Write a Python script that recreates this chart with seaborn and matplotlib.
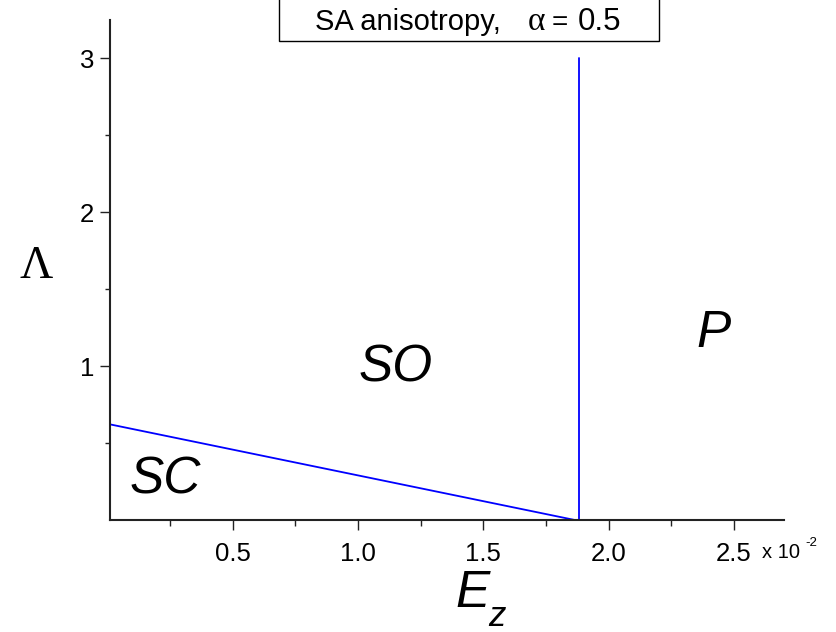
import matplotlib
matplotlib.use("Agg")
import matplotlib.pyplot as plt
import matplotlib.patches as mpatches
from matplotlib.ticker import FixedLocator
import numpy as np
import pandas as pd
import seaborn as sns

# Phase boundaries (E_z in units of 1e-2, Lambda)
sc_so_ez = [0.0, 1.865]
sc_so_lam = [0.625, 0.0]
so_p_ez = [1.883, 1.883]
so_p_lam = [0.0, 3.0]

# Phase region labels and their positions
phase_names = ["SC", "SO", "P"]
phase_ez = [0.23, 1.15, 2.42]
phase_lam = [0.26, 0.99, 1.21]

x_major = [0.5, 1.0, 1.5, 2.0, 2.5]
x_labels = ["0.5", "1.0", "1.5", "2.0", "2.5"]
x_minor = [0.25, 0.75, 1.25, 1.75, 2.25]
y_major = [1, 2, 3]
y_labels = ["1", "2", "3"]
y_minor = [0.5, 1.5, 2.5]

sns.set_theme(style="ticks")
plt.rcParams["font.family"] = ["Liberation Sans", "DejaVu Sans"]
plt.rcParams["text.color"] = "black"
plt.rcParams["xtick.color"] = "black"
plt.rcParams["ytick.color"] = "black"

W, H = 837, 632
SANS = ["Liberation Sans", "DejaVu Sans"]
SERIF = ["Liberation Serif", "DejaVu Serif"]

fig = plt.figure(figsize=(W / 100, H / 100), dpi=100)
ax = fig.add_axes([110 / W, 112 / H, 674 / W, 500 / H])

df1 = pd.DataFrame({"Ez": sc_so_ez, "Lam": sc_so_lam})
df2 = pd.DataFrame({"Ez": so_p_ez, "Lam": so_p_lam})
sns.lineplot(data=df1, x="Ez", y="Lam", ax=ax, color="#0000ff", lw=1.3,
             estimator=None, sort=False)
sns.lineplot(data=df2, x="Ez", y="Lam", ax=ax, color="#0000ff", lw=1.3,
             estimator=None, sort=False)

ax.set_xlim(0.01, 2.7)
ax.set_ylim(0, 3.25)
ax.set_xlabel("")
ax.set_ylabel("")

for s in ["top", "right"]:
    ax.spines[s].set_visible(False)
for s in ["left", "bottom"]:
    ax.spines[s].set_linewidth(1.5)
    ax.spines[s].set_color("#222222")

ax.xaxis.set_major_locator(FixedLocator(x_major))
ax.xaxis.set_minor_locator(FixedLocator(x_minor))
ax.set_xticklabels(x_labels)
ax.yaxis.set_major_locator(FixedLocator(y_major))
ax.yaxis.set_minor_locator(FixedLocator(y_minor))
ax.set_yticklabels(y_labels)

ax.tick_params(axis="x", which="major", direction="out", length=7.5, width=1,
               labelsize=18.5, pad=8, color="#222222", labelcolor="black")
ax.tick_params(axis="x", which="minor", direction="out", length=4.5, width=1,
               color="#222222")
ax.tick_params(axis="y", which="major", direction="out", length=7.5, width=1,
               labelsize=18.5, pad=4, color="#222222", labelcolor="black")
ax.tick_params(axis="y", which="minor", direction="out", length=3.8, width=1,
               color="#222222")

for name, xe, yl in zip(phase_names, phase_ez, phase_lam):
    ax.text(xe, yl, name, fontsize=37, style="italic", ha="center",
            va="center", color="black")

# Offset multiplier next to the last tick label
fig.text(762 / W, 1 - 558 / H, "x 10", fontsize=14.5, ha="left",
         va="baseline")
fig.text(805 / W, 1 - 546 / H, "-2", fontsize=9.5, ha="left",
         va="baseline")

# Axis titles
fig.text(473 / W, 1 - 607 / H, "E", fontsize=37, style="italic",
         ha="center", va="baseline")
fig.text(497 / W, 1 - 626 / H, "z", fontsize=25, style="italic",
         ha="center", va="baseline")
fig.text(36 / W, 1 - 267 / H, "Λ", fontsize=33, family=SERIF,
         ha="center", va="center")

# Caption box at the top
fig.patches.append(mpatches.Rectangle((279 / W, 1 - 40.7 / H),
                                      380 / W, 60 / H,
                                      transform=fig.transFigure,
                                      facecolor="white", edgecolor="black",
                                      lw=1.0))
caption_pieces = ["SA anisotropy,", "α", "=", "0.5"]
caption_x = [315, 528, 552, 578]
caption_fam = [SANS, SERIF, SANS, SANS]
caption_size = [21, 24, 20, 22.5]
for piece, xp, fam, size in zip(caption_pieces, caption_x, caption_fam,
                                caption_size):
    fig.text(xp / W, 1 - 30 / H, piece, fontsize=size, family=fam,
             ha="left", va="baseline")

fig.savefig("out.png", dpi=100)
